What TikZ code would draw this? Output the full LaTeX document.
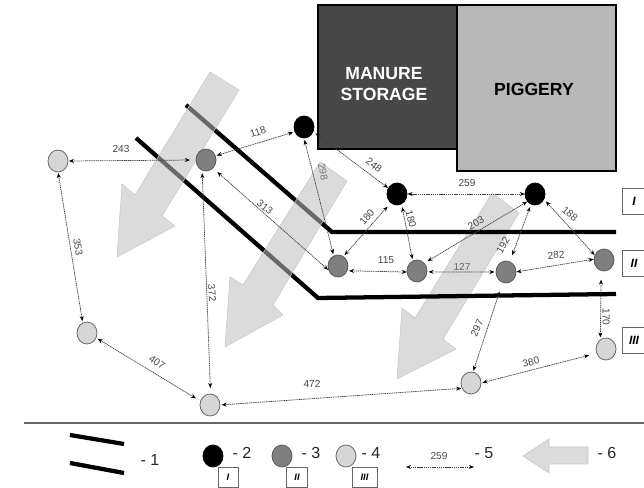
\documentclass[tikz,border=0pt]{standalone}
\usepackage{fontspec}
\setmainfont{Liberation Sans}
\usetikzlibrary{arrows.meta,shapes.geometric}
\definecolor{bk}{HTML}{000000}
\definecolor{dk}{HTML}{7F7F7F}
\definecolor{lt}{HTML}{D6D6D6}
\definecolor{bigarrow}{HTML}{DBDBDB}
\definecolor{bigarrowb}{HTML}{BEBEBE}
\tikzset{
 pt/.style={ellipse,draw=#1,minimum width=15pt,minimum height=16.5pt,inner sep=0pt,outer sep=0pt,line width=.6pt},
 blk/.style={pt=black,fill=bk},
 drk/.style={pt=black!65,fill=dk},
 lgt/.style={pt=black!60,fill=lt},
 edge/.style={dash pattern=on .9pt off .5pt,line width=.55pt,black!75,{Stealth[length=3.8pt,width=3pt,black]}-{Stealth[length=3.8pt,width=3pt,black]}},
 lab/.style={font=\fontsize{7.6pt}{8pt}\selectfont,text=black!72,inner sep=0pt},
 road/.style={line width=3.2pt,black,line join=miter},
 flow/.style={fill=bigarrowb,fill opacity=.55,draw=black!22,line width=.4pt},
 flowb/.style={fill=bigarrow,draw=black!22,line width=.4pt},
 zone/.style={draw=black!60,line width=.6pt,fill=white,inner sep=0pt,font=\bfseries\itshape\fontsize{9pt}{9pt}\selectfont},
 key/.style={font=\fontsize{12pt}{12pt}\selectfont,text=black!85,inner sep=0pt},
 bld/.style={draw=black,line width=1.6pt},
 bldt/.style={font=\bfseries\fontsize{13.2pt}{15.5pt}\selectfont,align=center,inner sep=0pt}
}
\begin{document}
\begin{tikzpicture}[x=.75pt,y=-.75pt]
\useasboundingbox (0,0) rectangle (644,488);
% buildings
\fill[fill=black!72] (318,5) rectangle (457,149);
\draw[bld] (318,5) rectangle (457,149);
\filldraw[bld,fill=black!28] (457,5) rectangle (616,171);
\node[bldt,text=white] (ms) at (384,84) {MANURE\\STORAGE};
\node[bldt,text=black] (pg) at (534,89) {PIGGERY};
% arrow under the roads
\draw[flowb] (492,193) -- (519,213) -- (443,339) -- (456,349) -- (397,379) -- (402,308) -- (415,318) -- cycle;
% roads
\draw[road] (186,105) -- (332,232) -- (616,232);
\draw[road] (136,138) -- (318,298) -- (616,294);
% arrows over the roads
\draw[flow] (210,72) -- (239,90) -- (162,216) -- (175,226) -- (117,257) -- (122,184) -- (135,195) -- cycle;
\draw[flow] (320,162) -- (347,181) -- (273,305) -- (283,315) -- (225,347) -- (230,277) -- (243,285) -- cycle;
% points
\node[blk] (a) at (304,127) {};
\node[blk] (b) at (397,194) {};
\node[blk] (c) at (535,194) {};
\node[drk] (d) at (206,160) {};
\node[drk] (e) at (338,266) {};
\node[drk] (f) at (417,271) {};
\node[drk] (g) at (506,272) {};
\node[drk] (h) at (604,260) {};
\node[lgt] (j) at (58,161) {};
\node[lgt] (k) at (87,333) {};
\node[lgt] (l) at (210,405) {};
\node[lgt] (m) at (471,383) {};
\node[lgt] (n) at (606,349) {};
% connectors: from node / border angle / gap , to node / border angle / gap (gaps in px)
\foreach \p/\pa/\ps/\q/\qa/\qs in {
  a/208.6/2/d/24/1.5, a/-27/3/b/146/.5, a/-90/2/e/113/2,
  d/180/6/j/0/1, d/-50/6/e/206.6/1, d/249/3/l/87/6,
  j/-90/1/k/113/2, k/-28.6/2/l/158/5.5, l/0/1.5/m/211/1,
  m/80/1.5/g/252.5/9.5, m/0/1.5/n/205/8, n/122/2.5/h/255/9,
  b/0/.5/c/180/.2, b/235/5/e/61/2, b/-65/3.5/f/113/2,
  c/225/.5/f/48/4, c/249/3/g/70.6/7, c/-30/3/h/153/.5,
  e/-28.6/2/f/186/.2, f/-5/1.5/g/180/1.5, g/0/.5/h/175/.5}
  \draw[edge,shorten <=\ps*.75pt,shorten >=\qs*.75pt] (\p.\pa) -- (\q.\qa);
% labels
\node[lab] (t1) at (121,149) {243};
\node[lab,rotate=18] (t2) at (258,132) {118};
\node[lab,rotate=-38] (t3) at (374,165) {248};
\node[lab,rotate=-78,text=black!55] (t4) at (323,172) {298};
\node[lab,rotate=-38] (t5) at (265,207) {313};
\node[lab,rotate=-80] (t6) at (78,247) {353};
\node[lab,rotate=-85] (t7) at (212,293) {372};
\node[lab,rotate=-35] (t8) at (157,362) {407};
\node[lab] (t9) at (312,384) {472};
\node[lab,rotate=65] (t10) at (477,328) {297};
\node[lab,rotate=15] (t11) at (531,362) {380};
\node[lab,rotate=-90] (t12) at (606,317) {170};
\node[lab,rotate=50] (t13) at (367,217) {180};
\node[lab,rotate=-75] (t14) at (411,219) {180};
\node[lab] (t15) at (467,183) {259};
\node[lab,rotate=30] (t16) at (476,223) {203};
\node[lab,rotate=60] (t17) at (503,245) {192};
\node[lab,rotate=-40] (t18) at (570,214) {188};
\node[lab] (t19) at (386,260) {115};
\node[lab,text=black!60] (t20) at (462,267) {127};
\node[lab,rotate=4] (t21) at (556,255) {282};
% zone boxes
\node[zone,minimum width=17pt,minimum height=20pt] (z1) at (634,201.5) {I};
\node[zone,minimum width=17pt,minimum height=20pt] (z2) at (634,263.5) {II};
\node[zone,minimum width=17pt,minimum height=20pt] (z3) at (634,340.5) {III};
% legend
\draw[black!60,line width=.9pt] (24,423) -- (644,423);
\draw[road] (70,435) -- (124,444);
\draw[road] (70,463) -- (124,473);
\node[key] (k1) at (150,460) {- 1};
\node[blk] (lb) at (213,456) {};
\node[key] (k2) at (242,453) {- 2};
\node[drk] (ld) at (282,456) {};
\node[key] (k3) at (311,453) {- 3};
\node[lgt] (ll) at (346,456) {};
\node[key] (k4) at (371,453) {- 4};
\node[zone,line width=.5pt,minimum width=15pt,minimum height=15.5pt,font=\bfseries\itshape\fontsize{7pt}{7pt}\selectfont] (zl1) at (228,477.5) {I};
\node[zone,line width=.5pt,minimum width=15.5pt,minimum height=15.5pt,font=\bfseries\itshape\fontsize{7pt}{7pt}\selectfont] (zl2) at (297,477.5) {II};
\node[zone,line width=.5pt,minimum width=18.5pt,minimum height=15.5pt,font=\bfseries\itshape\fontsize{7pt}{7pt}\selectfont] (zl3) at (364.5,477.5) {III};
\coordinate (ea) at (406,467);
\coordinate (eb) at (474,467);
\draw[edge] (ea) -- (eb);
\node[lab] (l5) at (439,456) {259};
\node[key] (k5) at (484,453) {- 5};
\draw[flowb] (588,447) -- (549,447) -- (549,439) -- (523,456) -- (549,473) -- (549,464) -- (588,464) -- cycle;
\node[key] (k6) at (607,453) {- 6};
\end{tikzpicture}
\end{document}
